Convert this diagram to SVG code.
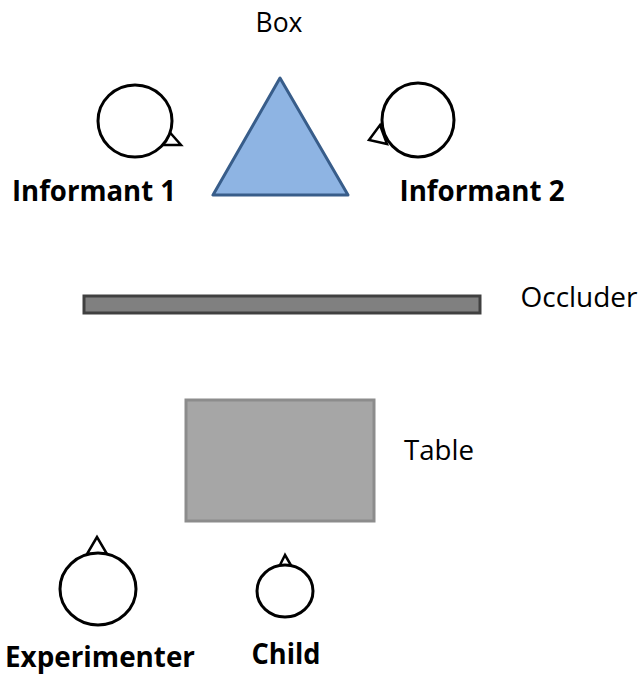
<svg xmlns="http://www.w3.org/2000/svg" width="644" height="675" viewBox="0 0 644 675">
<style>
.head{fill:#fff;stroke:#000;stroke-width:3}
.nose{fill:#fff;stroke:#000;stroke-width:2.5;stroke-linejoin:miter}
.lbl{font-family:"Open Sans","Liberation Sans",sans-serif;font-size:28px;fill:#000}
.b{font-weight:bold}
</style>
<rect width="644" height="675" fill="#fff"/>
<g id="box">
<polygon points="280,78 213,195 348,195" fill="#8EB4E3" stroke="#385D8A" stroke-width="3" stroke-linejoin="round"/>
<text class="lbl" x="279" y="32" text-anchor="middle" textLength="47" lengthAdjust="spacingAndGlyphs">Box</text>
</g>
<g id="informant1">
<polygon class="nose" points="166,128 181,145 162,145"/>
<ellipse class="head" cx="135" cy="121" rx="37" ry="36"/>
<text class="lbl b" x="94" y="201" text-anchor="middle" textLength="164" lengthAdjust="spacingAndGlyphs">Informant 1</text>
</g>
<g id="informant2">
<polygon class="nose" points="369,140 380,125 387,144"/>
<ellipse class="head" cx="418" cy="120" rx="36" ry="37"/>
<text class="lbl b" x="482" y="201" text-anchor="middle" textLength="165" lengthAdjust="spacingAndGlyphs">Informant 2</text>
</g>
<g id="occluder">
<rect x="84" y="296" width="396" height="17" fill="#808080" stroke="#404040" stroke-width="3"/>
<text class="lbl" x="579" y="307" text-anchor="middle" textLength="117" lengthAdjust="spacingAndGlyphs">Occluder</text>
</g>
<g id="table">
<rect x="186" y="400" width="188" height="121" fill="#A6A6A6" stroke="#8C8C8C" stroke-width="3"/>
<text class="lbl" x="439" y="460" text-anchor="middle" textLength="70" lengthAdjust="spacingAndGlyphs">Table</text>
</g>
<g id="experimenter">
<polygon class="nose" points="97,537 87,554 107,554"/>
<ellipse class="head" cx="98" cy="589" rx="38" ry="36"/>
<text class="lbl b" x="100" y="667" text-anchor="middle" textLength="190" lengthAdjust="spacingAndGlyphs">Experimenter</text>
</g>
<g id="child">
<polygon class="nose" points="285,555 279,567 292,567"/>
<ellipse class="head" cx="285" cy="591" rx="28" ry="26"/>
<text class="lbl b" x="286" y="664" text-anchor="middle" textLength="69" lengthAdjust="spacingAndGlyphs">Child</text>
</g>
<g id="connectors"></g>
</svg>
